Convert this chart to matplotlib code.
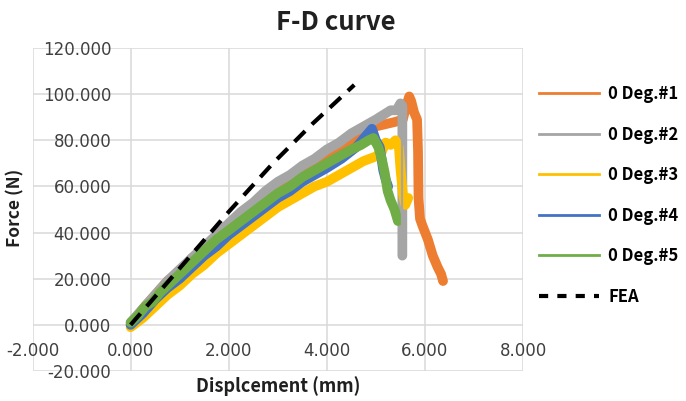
import matplotlib
matplotlib.use("Agg")
import matplotlib.pyplot as plt
from matplotlib.lines import Line2D

plt.rcParams['font.family'] = ['DejaVu Sans']
plt.rcParams['axes.unicode_minus'] = False
BOLD = ['Noto Sans CJK KR', 'DejaVu Sans']

# data (displacement mm, force N)
x1 = [0.00, 0.25, 0.50, 0.75, 1.00, 1.25, 1.50, 1.75, 2.00, 2.25, 2.50, 2.75, 3.00, 3.25,
      3.50, 3.75, 4.00, 4.25, 4.50, 4.75, 5.00, 5.20, 5.40, 5.55, 5.62, 5.68, 5.72, 5.78,
      5.84, 5.86, 5.87, 5.90, 5.95, 6.06, 6.16, 6.26, 6.33, 6.37]
y1 = [0, 7, 13, 19, 23, 29, 33, 38, 43, 47, 52, 56, 60, 63,
      67, 70, 74, 77, 80, 83, 86, 87, 88, 89, 95, 99, 97, 92,
      89, 75, 55, 46, 43, 37, 30, 25, 22, 19]

x2 = [0.00, 0.25, 0.50, 0.75, 1.00, 1.25, 1.50, 1.75, 2.00, 2.25, 2.50, 2.75, 3.00, 3.25,
      3.50, 3.75, 4.00, 4.25, 4.50, 4.75, 5.00, 5.15, 5.30, 5.42, 5.50, 5.54, 5.54]
y2 = [1, 7, 13, 19, 24, 29, 34, 39, 44, 49, 53, 58, 62, 65,
      69, 72, 76, 79, 83, 86, 89, 91, 93, 93, 96, 95, 30]

x3 = [0.00, 0.25, 0.50, 0.75, 1.00, 1.25, 1.50, 1.75, 2.00, 2.25, 2.50, 2.75, 3.00, 3.25,
      3.50, 3.75, 4.00, 4.25, 4.50, 4.75, 5.00, 5.12, 5.20, 5.30, 5.40, 5.47, 5.50, 5.55,
      5.60, 5.66]
y3 = [-1, 3, 8, 13, 17, 22, 26, 31, 35, 39, 43, 47, 51, 54,
      57, 60, 62, 65, 68, 71, 73, 75, 79, 78, 80, 77, 68, 57,
      52, 55]

x4 = [0.00, 0.25, 0.50, 0.75, 1.00, 1.25, 1.50, 1.75, 2.00, 2.25, 2.50, 2.75, 3.00, 3.25,
      3.50, 3.75, 4.00, 4.30, 4.60, 4.80, 4.92, 5.00, 5.08, 5.15, 5.20, 5.25]
y4 = [0, 5, 11, 16, 20, 25, 30, 34, 39, 43, 47, 51, 55, 58,
      62, 65, 68, 72, 77, 82, 85, 80, 77, 67, 63, 60]

x5 = [0.00, 0.15, 0.30, 0.45, 0.60, 0.75, 0.90, 1.05, 1.25, 1.50, 1.75, 2.00, 2.25, 2.50,
      2.75, 3.00, 3.25, 3.50, 3.75, 4.00, 4.25, 4.50, 4.70, 4.85, 4.95, 5.05, 5.12, 5.18,
      5.24, 5.30, 5.38, 5.45]
y5 = [1, 4, 8, 10, 14, 17, 20, 23, 27, 32, 37, 41, 45, 49,
      53, 57, 60, 64, 67, 70, 73, 76, 78, 80, 81, 77, 72, 66,
      58, 54, 50, 45]

x_fea = [0.00, 2.00, 2.90, 3.70, 4.56]
y_fea = [0.0, 49.0, 70.0, 87.0, 104.0]

labels = ['0 Deg.#1', '0 Deg.#2', '0 Deg.#3', '0 Deg.#4', '0 Deg.#5', 'FEA']
colors = ['#ED7D31', '#A5A5A5', '#FFC000', '#4472C4', '#70AD47']

xticks = [-2, 0, 2, 4, 6, 8]
yticks = [-20, 0, 20, 40, 60, 80, 100, 120]

fig = plt.figure(figsize=(6.86, 4.01), dpi=100)
ax = fig.add_axes([0.0474, 0.0748, 0.715, 0.8055])

series = [(x1, y1), (x2, y2), (x3, y3), (x4, y4), (x5, y5)]
for (xs, ys), c in zip(series, colors):
    ax.plot(xs, ys, color=c, lw=7, solid_joinstyle='round', solid_capstyle='round', zorder=3)
# gray series drops as a thin vertical line
ax.plot(x2[-2:], y2[-2:], color=colors[1], lw=1.6, zorder=3)
ax.plot(x_fea, y_fea, color='black', lw=3, dashes=(3.6, 2.3), zorder=4)

ax.set_xlim(-2, 8)
ax.set_ylim(-20, 120)
ax.set_xticks(xticks)
ax.set_yticks(yticks)
ax.set_xticklabels(['{:.3f}'.format(v) for v in xticks])
ax.set_yticklabels(['{:.3f}'.format(v) for v in yticks])
ax.spines['left'].set_position(('data', 0))
ax.spines['bottom'].set_position(('data', 0))
for s in ax.spines.values():
    s.set_visible(False)
ax.grid(True, color='#d9d9d9', lw=1.1, zorder=0)
ax.set_axisbelow(True)
ax.tick_params(axis='x', length=0, pad=12, labelsize=12, labelcolor='#404040')
ax.tick_params(axis='y', length=0, pad=14, labelsize=12, labelcolor='#404040')

fig.text(0.49, 0.945, 'F-D curve', ha='center', va='center', fontsize=18.5,
         fontweight='bold', color='#202020', family=BOLD)
fig.text(0.406, 0.037, 'Displcement (mm)', ha='center', va='center', fontsize=13,
         fontweight='bold', color='#202020', family=BOLD)
fig.text(0.022, 0.481, 'Force (N)', ha='center', va='center', rotation=90,
         fontsize=12.5, fontweight='bold', color='#202020', family=BOLD)

handles = [Line2D([], [], color=c, lw=2) for c in colors]
handles.append(Line2D([], [], color='black', lw=3, dashes=(2.2, 2.2)))
fig.legend(handles, labels, loc='center left', bbox_to_anchor=(0.786, 0.5125),
           frameon=False, handlelength=3.6, handletextpad=0.55,
           labelspacing=1.35, borderpad=0, borderaxespad=0,
           prop={'size': 12, 'weight': 'bold', 'family': BOLD})

fig.savefig('out.png', dpi=100)
